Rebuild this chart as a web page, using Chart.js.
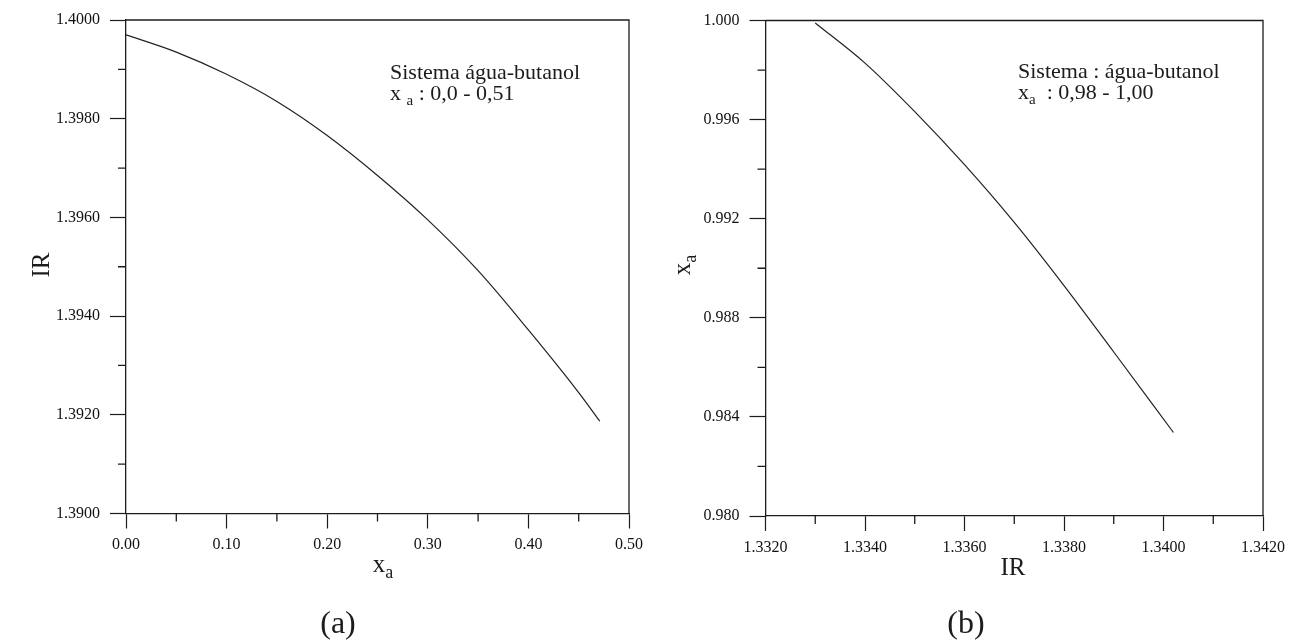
<!DOCTYPE html>
<html>
<head>
<meta charset="utf-8">
<script src="https://cdn.jsdelivr.net/npm/chart.js@4.4.0/dist/chart.umd.min.js"></script>
<style>
  body { margin: 0; background: #fff; }
  #wrap { position: relative; width: 1299px; height: 644px; }
  canvas { position: absolute; top: 0; }
  #chartA { left: 0; }
  #chartB { left: 650px; }
</style>
</head>
<body>
<div id="wrap">
  <canvas id="chartA" width="650" height="644"></canvas>
  <canvas id="chartB" width="649" height="644"></canvas>
</div>
<script>
// (a) IR versus water fraction x_a
const xaA = [0.00, 0.05, 0.10, 0.15, 0.20, 0.25, 0.30, 0.35, 0.40, 0.45, 0.471];
const irA = [1.39970, 1.39935, 1.39890, 1.39835, 1.39766, 1.39685, 1.39595, 1.39492, 1.39372, 1.39245, 1.39187];
const xTicksA = [0.00, 0.10, 0.20, 0.30, 0.40, 0.50];
const yTicksA = [1.3900, 1.3920, 1.3940, 1.3960, 1.3980, 1.4000];

// (b) x_a versus IR
const irB = [1.3330, 1.3340, 1.3350, 1.3360, 1.3370, 1.3380, 1.3390, 1.3402];
const xaB = [0.99990, 0.99828, 0.99632, 0.99418, 0.99185, 0.98930, 0.98662, 0.98337];
const xTicksB = [1.3320, 1.3340, 1.3360, 1.3380, 1.3400, 1.3420];
const yTicksB = [0.980, 0.984, 0.988, 0.992, 0.996, 1.000];

const FONT = '"Liberation Serif", "Times New Roman", serif';
const INK = '#1c1c1c';

// draws text with optional subscript parts: [[text, isSub], ...]
function drawRich(ctx, t) {
  const subSize = Math.round(t.size * 0.7);
  let w = 0;
  t.parts.forEach(([txt, isSub]) => {
    ctx.font = (isSub ? subSize : t.size) + 'px ' + FONT;
    w += ctx.measureText(txt).width;
  });
  ctx.save();
  ctx.translate(t.x, t.y);
  if (t.rotate) ctx.rotate(-Math.PI / 2);
  let x = t.align === 'center' ? -w / 2 : 0;
  ctx.fillStyle = INK;
  ctx.textBaseline = 'alphabetic';
  ctx.textAlign = 'left';
  t.parts.forEach(([txt, isSub]) => {
    ctx.font = (isSub ? subSize : t.size) + 'px ' + FONT;
    ctx.fillText(txt, x, isSub ? t.size * 0.24 : 0);
    x += ctx.measureText(txt).width;
  });
  ctx.restore();
}

// frame on top/right, minor ticks halfway between the labelled ones, texts
const deco = {
  id: 'deco',
  afterDraw(chart, args, o) {
    const { ctx, chartArea: a, scales } = chart;
    ctx.save();
    ctx.strokeStyle = INK;
    ctx.lineWidth = 1.3;
    ctx.beginPath();
    ctx.moveTo(a.left, a.top);
    ctx.lineTo(a.right, a.top);
    ctx.lineTo(a.right, a.bottom);
    const xt = scales.x.ticks, yt = scales.y.ticks;
    for (let i = 0; i < xt.length - 1; i++) {
      const px = scales.x.getPixelForValue((xt[i].value + xt[i + 1].value) / 2);
      ctx.moveTo(px, a.bottom);
      ctx.lineTo(px, a.bottom + 8);
    }
    for (let i = 0; i < yt.length - 1; i++) {
      const py = scales.y.getPixelForValue((yt[i].value + yt[i + 1].value) / 2);
      ctx.moveTo(a.left - 8, py);
      ctx.lineTo(a.left, py);
    }
    ctx.stroke();
    o.texts.forEach(t => drawRich(ctx, t));
    ctx.restore();
  }
};

function makeChart(id, xs, ys, c) {
  const tickFont = { family: FONT, size: 16 };
  return new Chart(document.getElementById(id), {
    type: 'scatter',
    data: {
      datasets: [{
        data: xs.map((x, i) => ({ x: x, y: ys[i] })),
        showLine: true,
        pointRadius: 0,
        borderColor: '#222',
        borderWidth: 1.2,
        cubicInterpolationMode: 'monotone'
      }]
    },
    options: {
      responsive: false,
      animation: false,
      layout: { padding: c.pad },
      plugins: {
        legend: { display: false },
        tooltip: { enabled: false },
        deco: { texts: c.texts }
      },
      scales: {
        x: {
          type: 'linear',
          min: c.xTicks[0],
          max: c.xTicks[c.xTicks.length - 1],
          afterBuildTicks: s => { s.ticks = c.xTicks.map(v => ({ value: v })); },
          afterFit: s => { s.height = c.xH; },
          grid: { drawOnChartArea: false, tickLength: 15, color: INK, tickWidth: 1.2 },
          border: { color: INK, width: 1.3 },
          ticks: {
            callback: v => v.toFixed(c.xDec),
            font: tickFont, color: '#111', padding: 7,
            maxRotation: 0, autoSkip: false
          }
        },
        y: {
          type: 'linear',
          min: c.yTicks[0],
          max: c.yTicks[c.yTicks.length - 1],
          afterBuildTicks: s => { s.ticks = c.yTicks.map(v => ({ value: v })); },
          afterFit: s => { s.width = c.yW; },
          grid: { drawOnChartArea: false, tickLength: 16, color: INK, tickWidth: 1.2 },
          border: { color: INK, width: 1.3 },
          ticks: {
            callback: v => v.toFixed(c.yDec),
            font: tickFont, color: '#111', padding: 10,
            autoSkip: false
          }
        }
      }
    },
    plugins: [deco]
  });
}

makeChart('chartA', xaA, irA, {
  xTicks: xTicksA, yTicks: yTicksA, xDec: 2, yDec: 4,
  pad: { top: 20, right: 20.5, left: 0, bottom: 0 },
  yW: 126, xH: 130.5,
  texts: [
    { x: 49, y: 265, size: 25, rotate: true, align: 'center', parts: [['IR', 0]] },
    { x: 383, y: 572, size: 25, align: 'center', parts: [['x', 0], ['a', 1]] },
    { x: 338, y: 633, size: 32, align: 'center', parts: [['(a)', 0]] },
    { x: 390, y: 79, size: 22, align: 'left', parts: [['Sistema água-butanol', 0]] },
    { x: 390, y: 100, size: 22, align: 'left', parts: [['x ', 0], ['a', 1], [' : 0,0 - 0,51', 0]] }
  ]
});

makeChart('chartB', irB, xaB, {
  xTicks: xTicksB, yTicks: yTicksB, xDec: 4, yDec: 3,
  pad: { top: 20.5, right: 36, left: 0, bottom: 0 },
  yW: 115.5, xH: 128,
  texts: [
    { x: 40, y: 265, size: 25, rotate: true, align: 'center', parts: [['x', 0], ['a', 1]] },
    { x: 363, y: 575, size: 25, align: 'center', parts: [['IR', 0]] },
    { x: 316, y: 633, size: 32, align: 'center', parts: [['(b)', 0]] },
    { x: 368, y: 78, size: 22, align: 'left', parts: [['Sistema : água-butanol', 0]] },
    { x: 368, y: 99, size: 22, align: 'left', parts: [['x', 0], ['a', 1], ['  : 0,98 - 1,00', 0]] }
  ]
});
</script>
</body>
</html>
